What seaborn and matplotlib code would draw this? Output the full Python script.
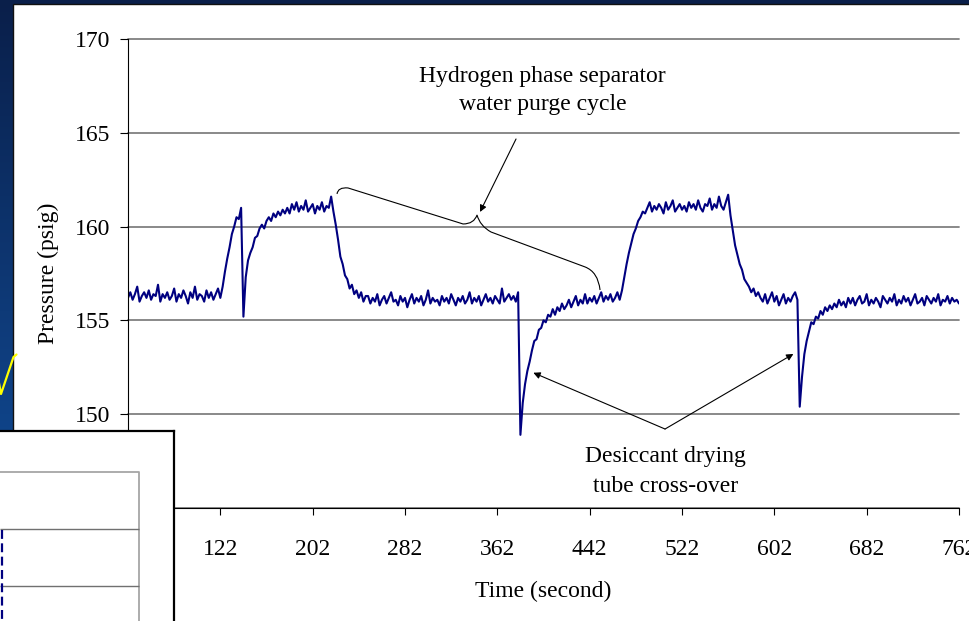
import numpy as np
import pandas as pd
import matplotlib
matplotlib.use('Agg')
import matplotlib.pyplot as plt
from matplotlib.colors import LinearSegmentedColormap
from matplotlib.patches import Rectangle, PathPatch
from matplotlib.path import Path
from matplotlib.lines import Line2D
import seaborn as sns

sns.set_theme(style='white')
plt.rcParams['font.family'] = ['Liberation Serif', 'DejaVu Serif']
plt.rcParams['text.color'] = 'black'

# ===== Data (pressure, one reading every 2 s from t = 42 s) =====
time_start = 42
time_step = 2

base_start = [156.2, 156.5, 156.1, 156.4, 156.8, 156.0, 156.3, 156.5, 156.2, 156.6,
              156.1, 156.4, 156.3, 156.9, 156.0, 156.4, 156.2, 156.5, 156.1, 156.3,
              156.7, 156.0, 156.4, 156.2, 156.6, 156.3, 155.9, 156.5, 156.2, 156.8,
              156.1, 156.4, 156.3, 156.0, 156.6, 156.2, 156.5, 156.1, 156.4, 156.7,
              156.2]
purge_rise_1 = [156.8, 157.6, 158.3, 158.9, 159.6, 160.0, 160.5, 160.4, 161.0]
crossover_1 = [155.2, 157.3, 158.2, 158.6, 158.9, 159.4, 159.5, 159.9, 160.1, 159.9,
               160.3, 160.5, 160.3, 160.7, 160.5, 160.8, 160.6, 160.9, 160.7]
purge_top_1 = [161.0, 160.7, 161.2, 160.9, 161.3, 160.8, 161.1, 160.9, 161.4, 160.8,
               161.0, 161.2, 160.7, 161.1, 160.9, 161.3, 160.8, 161.1, 161.0, 161.6]
purge_fall_1 = [160.8, 160.1, 159.3, 158.4, 158.0, 157.4, 157.2, 156.7, 156.9, 156.4,
                156.6, 156.2, 156.5, 156.0, 156.3]
base_mid = [156.3, 155.9, 156.2, 156.0, 156.4, 155.8, 156.1, 156.3, 155.9, 156.2,
            156.5, 156.0, 156.1, 155.8, 156.3, 156.0, 156.2, 155.7, 156.1, 156.4,
            155.9, 156.2, 156.0, 156.3, 155.8, 156.1, 156.6, 155.9, 156.2, 156.0,
            156.1, 155.8, 156.3, 156.0, 156.2, 155.9, 156.4, 156.1, 155.8, 156.2,
            156.0, 156.3, 155.9, 156.1, 156.5, 155.9, 156.2, 156.0, 156.3, 155.8,
            156.1, 156.4, 156.0, 156.2, 155.9, 156.3, 156.1, 155.9, 156.7, 156.0,
            156.2, 156.4, 156.1, 156.3, 156.0, 156.5]
crossover_2 = [148.9,
               150.6, 151.6, 152.3, 152.8, 153.4, 153.9, 154.0, 154.5, 154.6, 155.0,
               154.9, 155.3, 155.2, 155.6, 155.3, 155.7, 155.5, 155.9, 155.6, 155.8,
               156.1, 155.7, 156.0, 156.3, 155.8, 156.1, 155.9, 156.4, 155.9, 156.2,
               156.0, 156.3, 155.9, 156.2, 156.5, 156.0, 156.3, 156.1, 156.4, 156.0,
               156.2, 156.5, 156.1]
purge_rise_2 = [156.6, 157.3, 158.0, 158.6, 159.1, 159.6, 159.9, 160.3, 160.5, 160.8, 160.7]
purge_top_2 = [161.0, 161.3, 160.8, 161.1, 160.9, 161.2, 161.0, 160.7, 161.3, 160.9,
               161.1, 161.4, 160.8, 161.0, 161.2, 160.9, 161.1, 160.8, 161.3, 161.0,
               161.2, 160.9, 161.4, 161.0, 160.8, 161.2, 161.1, 161.5, 160.9, 161.2,
               161.0, 161.6, 161.1, 160.9, 161.3, 161.7]
purge_fall_2 = [160.6, 159.8, 159.0, 158.5, 158.0, 157.7, 157.2, 157.0, 156.8, 156.5,
                156.7, 156.3, 156.5, 156.2]
base_pre = [156.0, 156.4, 155.9, 156.2, 156.5, 156.0, 156.3, 155.8, 156.1, 156.4,
            155.9, 156.2, 156.0, 156.3, 156.5, 156.1]
crossover_3 = [150.4, 152.0, 153.2, 153.9, 154.4, 154.9, 154.8, 155.2, 155.1, 155.5,
               155.3, 155.7, 155.5, 155.8, 155.6, 155.9, 155.7, 156.1, 155.8, 156.0,
               155.7, 156.2]
base_end = [155.9, 156.2, 155.8, 156.1, 156.3, 155.9, 156.0, 156.4, 155.8, 156.1,
            155.9, 156.2, 156.0, 155.7, 156.3, 156.1, 155.9, 156.2, 156.0, 156.4,
            155.8, 156.1, 155.9, 156.3, 156.0, 156.2, 155.8, 156.1, 156.4, 155.9,
            156.0, 156.2, 155.8, 156.3, 156.1, 155.9, 156.2, 156.0, 156.4, 155.8,
            156.1, 156.0, 156.3, 155.9, 156.2, 156.0, 156.1, 155.9]

x_ticks = [122, 202, 282, 362, 442, 522, 602, 682, 762]
y_ticks = [145, 150, 155, 160, 165, 170]

purge_label = ['Hydrogen phase separator', 'water purge cycle']
cross_label = ['Desiccant drying', 'tube cross-over']

pressure = (base_start + purge_rise_1 + crossover_1 + purge_top_1 + purge_fall_1
            + base_mid + crossover_2 + purge_rise_2 + purge_top_2 + purge_fall_2
            + base_pre + crossover_3 + base_end)
time = time_start + time_step * np.arange(len(pressure))
df = pd.DataFrame({'time': time, 'pressure': pressure})

W, H = 970, 621
fig = plt.figure(figsize=(W / 100, H / 100), dpi=100)

# ===== Slide background =====
bg = fig.add_axes([0, 0, 1, 1], zorder=-5)
grad = np.linspace(0, 1, 256).reshape(-1, 1)
slide_cmap = LinearSegmentedColormap.from_list('slide', ['#0a1f4a', '#0e3a78', '#1052a2'])
bg.imshow(grad, aspect='auto', cmap=slide_cmap, extent=[0, 1, 0, 1], origin='upper')
bg.add_patch(Rectangle((13 / W, -0.05), 1.1, 1.05 - 4 / H,
                       facecolor='white', edgecolor='#111111', lw=1))
bg.set_xlim(0, 1)
bg.set_ylim(0, 1)
bg.set_axis_off()

# ===== Main chart =====
ax = fig.add_axes([128 / W, 1 - 508 / H, 831 / W, 469 / H])
sns.lineplot(data=df, x='time', y='pressure', color='#000080', lw=1.5, ax=ax)
ax.set_xlim(42, 762)
ax.set_ylim(145, 170)
ax.set_xticks(x_ticks)
ax.set_yticks(y_ticks)
ax.set_facecolor('white')

for side in ['top', 'right']:
    ax.spines[side].set_visible(False)
for side in ['left', 'bottom']:
    ax.spines[side].set_color('black')
    ax.spines[side].set_linewidth(0.8)

ax.tick_params(axis='y', left=True, length=5.8, width=0.8, pad=7, labelsize=17,
               color='black', labelcolor='black', direction='out')
ax.tick_params(axis='x', bottom=True, length=5, width=0.8, pad=17, labelsize=17,
               color='black', labelcolor='black', direction='out')
ax.yaxis.grid(True, color='#808080', lw=1.3)
ax.xaxis.grid(False)
for gl in ax.get_ygridlines():
    gl.set_clip_on(False)

ax.set_xlabel('Time (second)', fontsize=17, labelpad=15.5, color='black')
ax.set_ylabel('Pressure (psig)', fontsize=17, labelpad=11, color='black')

# ===== Annotations =====
ax.text(401.2, 167.72, purge_label[0], ha='center', va='baseline', fontsize=17)
ax.text(401.2, 166.19, purge_label[1], ha='center', va='baseline', fontsize=17)
ax.text(508, 147.47, cross_label[0], ha='center', va='baseline', fontsize=17)
ax.text(508, 145.85, cross_label[1], ha='center', va='baseline', fontsize=17)

arrow = dict(arrowstyle='-|>', color='black', lw=0.8, shrinkA=0, shrinkB=0,
             mutation_scale=10)
ax.annotate('', xy=(347, 160.78), xytext=(378.2, 164.67), arrowprops=arrow)
ax.annotate('', xy=(393.2, 152.21), xytext=(507.3, 149.21), arrowprops=arrow)
ax.annotate('', xy=(618.5, 153.21), xytext=(507.3, 149.21), arrowprops=arrow)

brace = Path(
    [(223.1, 161.74), (223.9, 162.11), (232.6, 162.06),
     (332.3, 160.14),
     (341.8, 160.14), (344.4, 160.62),
     (347.0, 160.03), (356.6, 159.71),
     (438.0, 157.85),
     (449.3, 157.58), (451.0, 156.62)],
    [Path.MOVETO, Path.CURVE3, Path.CURVE3, Path.LINETO,
     Path.CURVE3, Path.CURVE3, Path.CURVE3, Path.CURVE3,
     Path.LINETO, Path.CURVE3, Path.CURVE3])
ax.add_patch(PathPatch(brace, fill=False, edgecolor='black', lw=0.8))

# ===== Overlapping slide box (lower left) =====
ov = fig.add_axes([0, 0, 174 / W, (H - 431) / H])
ov.set_xlim(0, 174)
ov.set_ylim(H, 431)
ov.set_xticks([])
ov.set_yticks([])
ov.set_facecolor('white')
for side in ['left', 'bottom']:
    ov.spines[side].set_visible(False)
for side in ['top', 'right']:
    ov.spines[side].set_color('black')
    ov.spines[side].set_linewidth(1.6)
ov.plot([0, 139.5, 139.5], [472, 472, H], color='#a6a6a6', lw=1.3)
ov.hlines([529.3, 586], 0, 139.5, color='#707070', lw=1)
ov.vlines(2, 530, H, color='#000080', lw=1.6, linestyles=(0, (4, 2)))

# yellow tick mark on the slide edge
check_x = [-3, 1, 13.5, 16.5]
check_y = [372, 394, 357, 354.5]
fig.add_artist(Line2D([x / W for x in check_x], [1 - y / H for y in check_y],
                      transform=fig.transFigure, color='#ffff00', lw=1.6, zorder=10))

fig.savefig('out.png', dpi=100)
